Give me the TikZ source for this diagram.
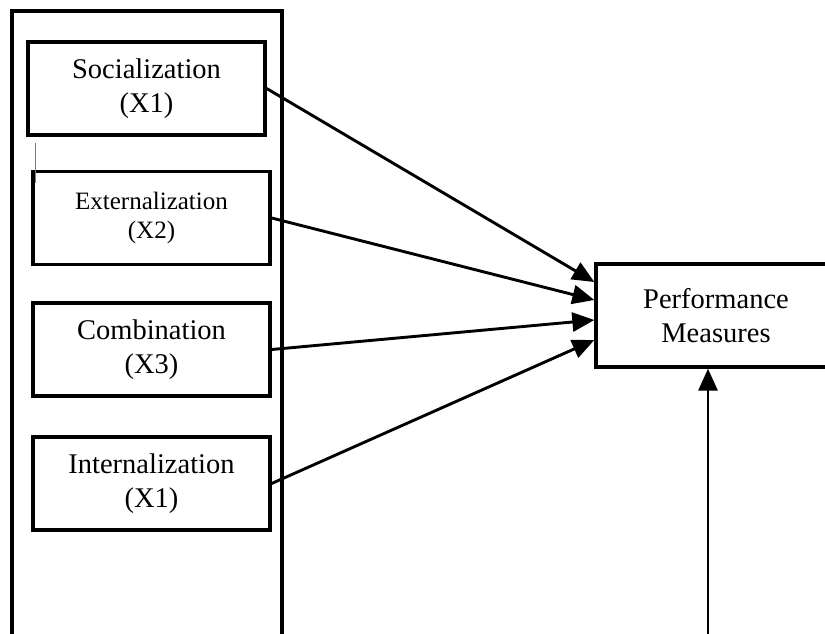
\documentclass[tikz,border=0pt]{standalone}
\usepackage{fontspec}
\setmainfont{Liberation Serif}
\usepackage{tikz}
\usetikzlibrary{arrows.meta}
\tikzset{
	var node/.style={rectangle,draw,line width=3.3pt,minimum width=237pt,minimum height=93pt,align=center,font=\fontsize{28.5}{34}\selectfont},
	link/.style={line width=2.9pt,-{Triangle[length=22pt,width=19pt]}}
}

\begin{document}
\begin{tikzpicture}[x=1pt,y=-1pt]
            \useasboundingbox (0,0) rectangle (825,634);
            \clip (0,0) rectangle (825,634);
            \draw [line width=3.3pt] (12,11) rectangle (282,660);
            \node [var node] (1) at (146.5,88.5) {Socialization\\(X1)};
            \node [var node,font=\fontsize{25}{29}\selectfont] (2) at (151.5,218) {Externalization\\(X2)};
            \node [var node] (3) at (151.5,349.5) {Combination\\(X3)};
            \node [var node] (4) at (151.5,483.5) {Internalization\\(X1)};
            \node [var node,minimum width=240pt,minimum height=103pt] (5) at (716,315.5) {Performance\\Measures};
            \draw [gray,line width=0.8pt] (35,143) -- (35,183);
            \coordinate (6) at (708,660);
            \draw [link] (1.east) -- ([yshift=33.5pt]5.west);
            \draw [link] (2.east) -- ([yshift=15.5pt]5.west);
            \draw [link] (3.east) -- ([yshift=-4.5pt]5.west);
            \draw [link] (4.east) -- ([yshift=-24.5pt]5.west);
            \draw [link] (6) -- (6 |- 5.south);
          \end{tikzpicture}
\end{document}
